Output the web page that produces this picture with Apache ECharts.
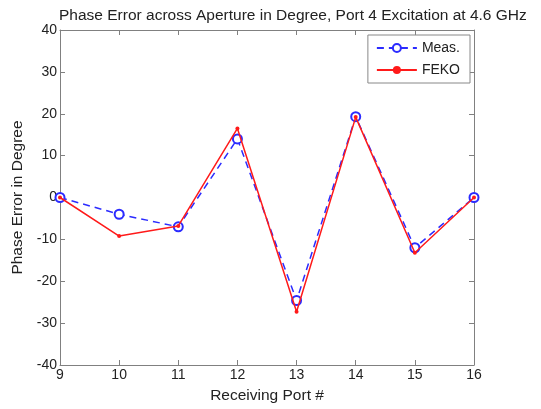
<!DOCTYPE html>
<html>
<head>
<meta charset="utf-8">
<script src="https://cdn.jsdelivr.net/npm/echarts@6/dist/echarts.min.js"></script>
<style>
html, body { margin: 0; padding: 0; background: #fff; }
#chart { width: 541px; height: 409px; }
</style>
</head>
<body>
<div id="chart"></div>
<script>
// data
const ports = [9, 10, 11, 12, 13, 14, 15, 16];
const measured = [0, -4, -7, 14, -24.6, 19.3, -12, 0];
const feko = [0, -9.2, -6.8, 16.5, -27.3, 19.2, -13.2, 0];

const chart = echarts.init(document.getElementById('chart'));
const font = 'Liberation Sans, Arial, sans-serif';
const axisColor = '#808080';

function pairs(ys) {
    return ports.map((x, i) => [x, ys[i]]);
}

const option = {
    animation: false,
    textStyle: { fontFamily: font },
    title: {
        text: 'Phase Error across Aperture in Degree, Port 4 Excitation at 4.6 GHz',
        left: 54,
        top: 3,
        textStyle: { fontSize: 15.5, fontWeight: 'normal', color: '#222', fontFamily: font }
    },
    legend: {
        right: 71,
        top: 35,
        orient: 'vertical',
        itemWidth: 40,
        itemHeight: 10,
        itemGap: 8,
        padding: [6, 10, 6, 8],
        borderColor: '#888',
        borderWidth: 1,
        backgroundColor: '#fff',
        textStyle: { fontSize: 14, color: '#222', fontFamily: font },
        data: ['Meas.', 'FEKO']
    },
    grid: { left: 60, right: 67, top: 30, bottom: 41 },
    xAxis: [{
        type: 'value',
        min: 9, max: 16, interval: 1,
        name: 'Receiving Port #',
        nameLocation: 'middle',
        nameGap: 23,
        nameTextStyle: { fontSize: 15.5, color: '#222' },
        axisLine: { onZero: false, lineStyle: { color: axisColor } },
        axisTick: { inside: true, length: 5, lineStyle: { color: axisColor } },
        axisLabel: { fontSize: 14, color: '#222', margin: 3 },
        splitLine: { show: false }
    }, {
        type: 'value', position: 'top',
        min: 9, max: 16, interval: 1,
        axisLine: { show: true, onZero: false, lineStyle: { color: axisColor } },
        axisTick: { inside: true, length: 5, lineStyle: { color: axisColor } },
        axisLabel: { show: false },
        splitLine: { show: false }
    }],
    yAxis: [{
        type: 'value',
        min: -40, max: 40, interval: 10,
        name: 'Phase Error in Degree',
        nameLocation: 'middle',
        nameGap: 33,
        nameTextStyle: { fontSize: 15.5, color: '#222' },
        axisLine: { show: true, onZero: false, lineStyle: { color: axisColor } },
        axisTick: { show: true, inside: true, length: 5, lineStyle: { color: axisColor } },
        axisLabel: { fontSize: 14, color: '#222', margin: 3 },
        splitLine: { show: false }
    }, {
        type: 'value', position: 'right',
        min: -40, max: 40, interval: 10,
        axisLine: { show: true, onZero: false, lineStyle: { color: axisColor } },
        axisTick: { show: true, inside: true, length: 5, lineStyle: { color: axisColor } },
        axisLabel: { show: false },
        splitLine: { show: false }
    }],
    series: [
        {
            name: 'Meas.',
            type: 'line',
            data: pairs(measured),
            symbol: 'emptyCircle',
            symbolSize: 9,
            itemStyle: { color: '#2b2bff', borderWidth: 1.5 },
            lineStyle: { color: '#2b2bff', width: 1.5, type: [7, 5] },
            z: 2
        },
        {
            name: 'FEKO',
            type: 'line',
            data: pairs(feko),
            symbol: 'circle',
            symbolSize: 4,
            itemStyle: { color: '#ff1a1a' },
            lineStyle: { color: '#ff1a1a', width: 1.5 },
            z: 3
        }
    ]
};
chart.setOption(option);
</script>
</body>
</html>
